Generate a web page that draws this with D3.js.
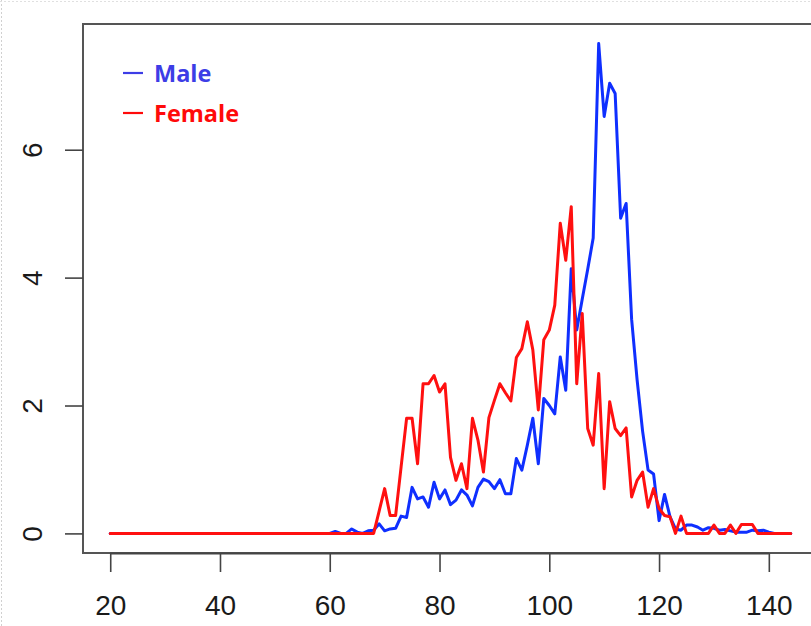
<!DOCTYPE html>
<html>
<head>
<meta charset="utf-8">
<script src="https://cdn.jsdelivr.net/npm/d3@7"></script>
<style>
  html, body { margin: 0; padding: 0; background: #fff; }
  svg { display: block; }
</style>
</head>
<body>
<svg id="chart" width="811" height="626"></svg>
<script>
// ---- data ----
const ages = [20,21,22,23,24,25,26,27,28,29,30,31,32,33,34,35,36,37,38,39,
  40,41,42,43,44,45,46,47,48,49,50,51,52,53,54,55,56,57,58,59,
  60,61,62,63,64,65,66,67,68,69,70,71,72,73,74,75,76,77,78,79,
  80,81,82,83,84,85,86,87,88,89,90,91,92,93,94,95,96,97,98,99,
  100,101,102,103,104,105,106,107,108,109,110,111,112,113,114,115,116,117,118,119,
  120,121,122,123,124,125,126,127,128,129,130,131,132,133,134,135,136,137,138,139,
  140,141,142,143,144];

const male = [0,0,0,0,0,0,0,0,0,0,0,0,0,0,0,0,0,0,0,0,
  0,0,0,0,0,0,0,0,0,0,0,0,0,0,0,0,0,0,0,0,
  0,0.03,0,0,0.07,0.02,0,0.04,0.05,0.15,0.04,0.07,0.08,0.27,0.25,0.72,0.54,0.57,0.41,0.80,
  0.54,0.68,0.45,0.52,0.68,0.60,0.43,0.72,0.85,0.81,0.70,0.84,0.62,0.62,1.17,0.99,1.38,1.80,1.09,2.11,
  2.00,1.87,2.76,2.24,4.14,3.18,3.66,4.13,4.62,7.66,6.52,7.04,6.88,4.93,5.16,3.35,2.40,1.60,0.99,0.93,
  0.20,0.61,0.26,0.07,0.05,0.13,0.13,0.10,0.05,0.09,0.08,0.05,0.06,0.04,0.02,0.02,0.02,0.05,0.04,0.05,
  0.02,0,0,0,0];

const female = [0,0,0,0,0,0,0,0,0,0,0,0,0,0,0,0,0,0,0,0,
  0,0,0,0,0,0,0,0,0,0,0,0,0,0,0,0,0,0,0,0,
  0,0,0,0,0,0,0,0,0,0.35,0.70,0.28,0.28,1.04,1.80,1.80,1.09,2.34,2.34,2.47,
  2.21,2.34,1.19,0.83,1.09,0.70,1.80,1.46,0.96,1.81,2.08,2.34,2.20,2.07,2.75,2.89,3.31,2.87,1.93,3.03,
  3.18,3.57,4.85,4.27,5.11,2.34,3.44,1.64,1.38,2.50,0.70,2.06,1.64,1.53,1.65,0.57,0.83,0.96,0.41,0.70,
  0.39,0.28,0.26,0,0.27,0,0,0,0,0,0.13,0,0,0.13,0,0.14,0.14,0.14,0,0,
  0,0,0,0,0];

const xTicks = [20, 40, 60, 80, 100, 120, 140];
const yTicks = [0, 2, 4, 6];
const seriesNames = ["Male", "Female"];
const seriesColors = ["#0f2fff", "#ff1010"];
const legendColors = ["#3d3de6", "#ff0a0a"];

// ---- layout ----
const svg = d3.select("#chart");
const plot = { left: 83, top: 24, right: 818, bottom: 553 };

const x = d3.scaleLinear().domain([15.04, 148.96]).range([plot.left, plot.right]);
const y = d3.scaleLinear().domain([-0.3064, 7.966]).range([plot.bottom, plot.top]);

// faint dotted frame of the screenshot
svg.append("line").attr("x1", 1.5).attr("x2", 1.5).attr("y1", 0).attr("y2", 626)
  .attr("stroke", "#d0d0d0").attr("stroke-dasharray", "2,2");
svg.append("line").attr("x1", 0).attr("x2", 811).attr("y1", 1.5).attr("y2", 1.5)
  .attr("stroke", "#e0e0e0").attr("stroke-dasharray", "2,2");

// lines
const line = d3.line().x((d, i) => x(ages[i])).y(d => y(d));
[male, female].forEach((s, k) => {
  svg.append("path")
    .datum(s)
    .attr("d", line)
    .attr("fill", "none")
    .attr("stroke", seriesColors[k])
    .attr("stroke-width", 3)
    .attr("stroke-linejoin", "round")
    .attr("stroke-linecap", "round");
});

// box
svg.append("rect")
  .attr("x", plot.left).attr("y", plot.top)
  .attr("width", plot.right - plot.left).attr("height", plot.bottom - plot.top)
  .attr("fill", "none").attr("stroke", "#555").attr("stroke-width", 2);

// x axis
const xAxis = d3.axisBottom(x).tickValues(xTicks).tickSize(19).tickPadding(23).tickFormat(d3.format("d"));
const gx = svg.append("g").attr("transform", `translate(0,${plot.bottom})`).call(xAxis);
gx.select(".domain").attr("d", `M${x(20)},0.5H${x(140)}`).attr("stroke", "#444").attr("stroke-width", 2);
gx.selectAll(".tick line").attr("stroke", "#444").attr("stroke-width", 1.6);
gx.selectAll(".tick text")
  .attr("font-family", "'Liberation Sans', Arial, sans-serif")
  .attr("font-size", 28).attr("fill", "#1a1a1a");

// y axis
const yAxis = d3.axisLeft(y).tickValues(yTicks).tickSize(18).tickPadding(0).tickFormat(d3.format("d"));
const gy = svg.append("g").attr("transform", `translate(${plot.left},0)`).call(yAxis);
gy.select(".domain").remove();
gy.selectAll(".tick line").attr("stroke", "#444").attr("stroke-width", 1.6);
gy.selectAll(".tick text")
  .attr("font-family", "'Liberation Sans', Arial, sans-serif")
  .attr("font-size", 28).attr("fill", "#1a1a1a")
  .attr("text-anchor", "middle")
  .attr("dy", 0)
  .attr("x", 0)
  .attr("transform", `translate(${42 - plot.left},0) rotate(-90)`);

// legend
const legendY = [73, 113];
seriesNames.forEach((name, k) => {
  svg.append("line")
    .attr("x1", 123).attr("x2", 143)
    .attr("y1", legendY[k]).attr("y2", legendY[k])
    .attr("stroke", legendColors[k]).attr("stroke-width", 2.2);
  svg.append("text")
    .attr("x", 154).attr("y", legendY[k] + 8.5)
    .attr("font-family", "'Open Sans', sans-serif")
    .attr("font-weight", "bold")
    .attr("font-size", 23.5)
    .attr("fill", legendColors[k])
    .text(name);
});
</script>
</body>
</html>
